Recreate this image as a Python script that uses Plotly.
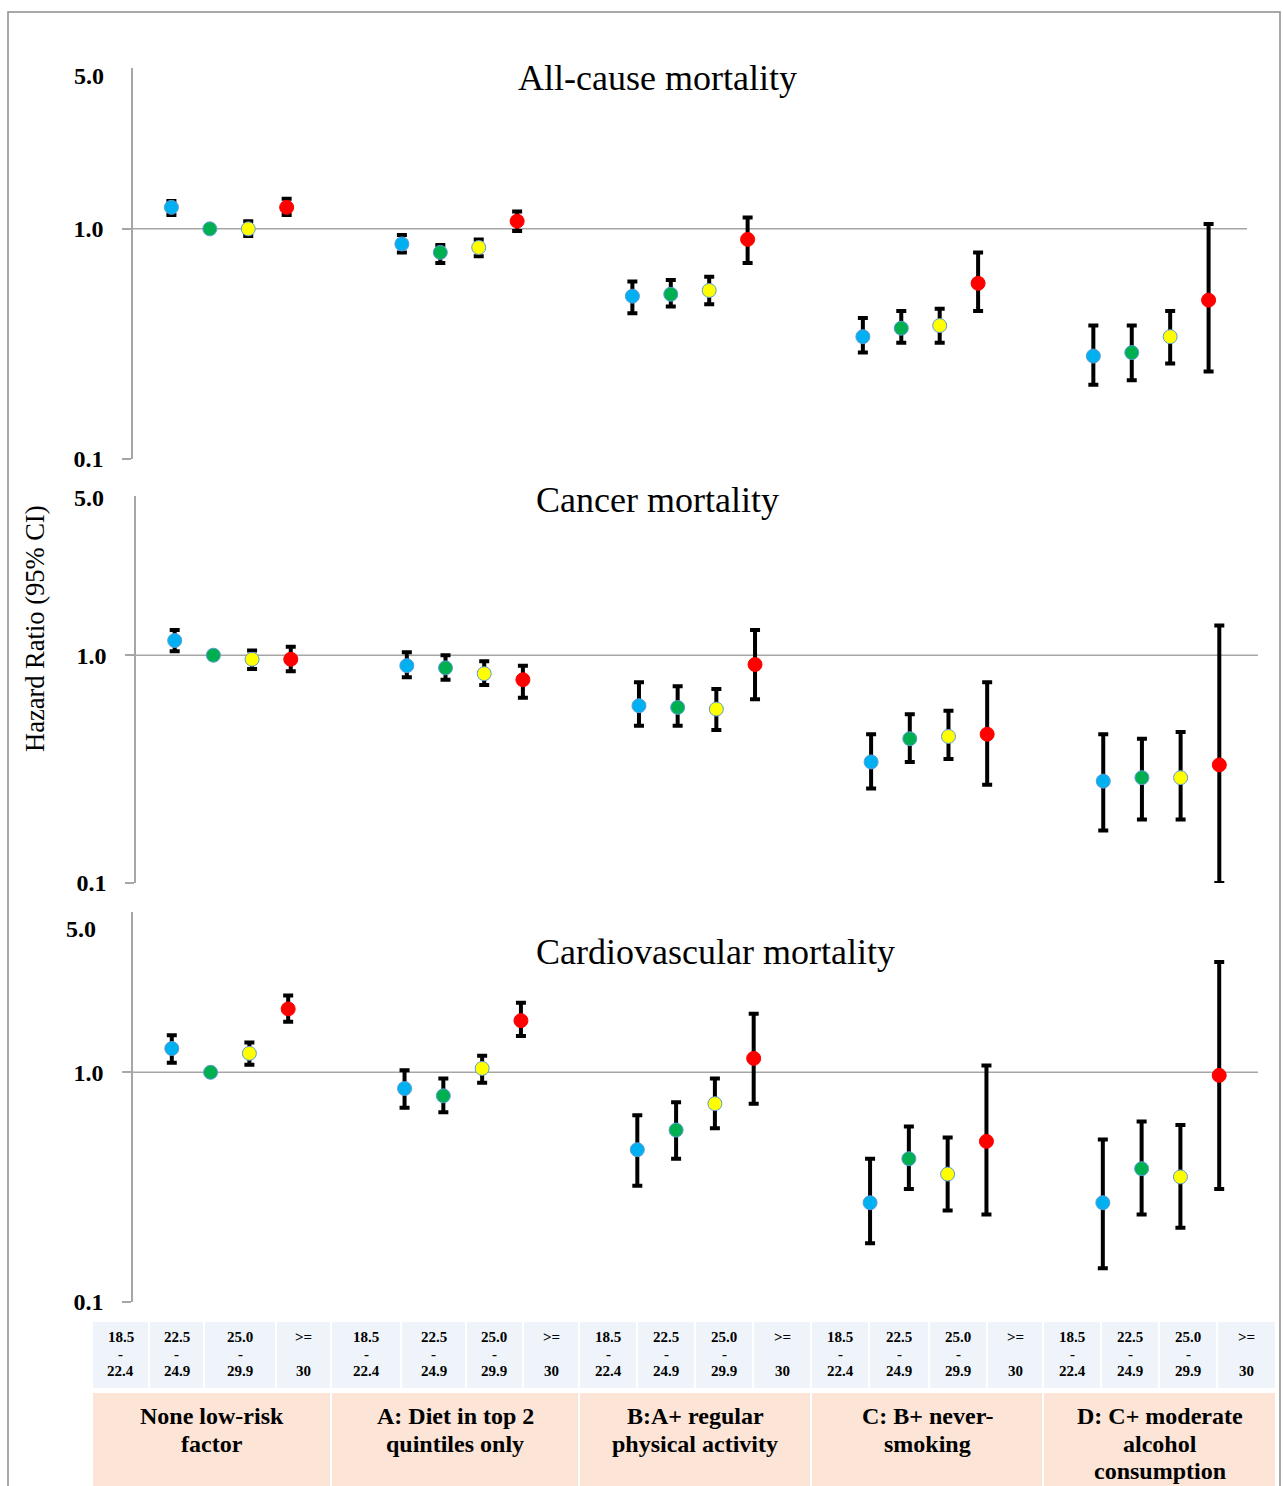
import plotly.graph_objects as go

# ---------------- data ----------------
groups = ["None low-risk factor", "A: Diet in top 2 quintiles only",
          "B:A+ regular physical activity", "C: B+ never-smoking",
          "D: C+ moderate alcohol consumption"]
group_label_lines = [["None low-risk", "factor"], ["A: Diet in top 2", "quintiles only"],
                     ["B:A+ regular", "physical activity"], ["C: B+ never-", "smoking"],
                     ["D: C+ moderate", "alcohol", "consumption"]]
bmi_cats = ["18.5-22.4", "22.5-24.9", "25.0-29.9", ">=30"]
bmi_label_lines = [["18.5", "-", "22.4"], ["22.5", "-", "24.9"], ["25.0", "-", "29.9"],
                   ["&gt;=", "", "30"]]
bmi_colors = ["#00B0F0", "#00B050", "#FFFF00", "#FF0000"]

panel_titles = ["All-cause mortality", "Cancer mortality", "Cardiovascular mortality"]

# hazard ratios ordered group by group, 4 BMI categories per group
hr_all = [1.24, 1.00, 1.00, 1.24, 0.86, 0.79, 0.83, 1.08, 0.51, 0.52, 0.54, 0.90,
          0.34, 0.37, 0.38, 0.58, 0.28, 0.29, 0.34, 0.49]
lo_all = [1.15, None, 0.93, 1.15, 0.79, 0.71, 0.76, 0.98, 0.43, 0.46, 0.47, 0.71,
          0.29, 0.32, 0.32, 0.44, 0.21, 0.22, 0.26, 0.24]
hi_all = [1.32, None, 1.08, 1.35, 0.94, 0.85, 0.90, 1.19, 0.59, 0.60, 0.62, 1.12,
          0.41, 0.44, 0.45, 0.79, 0.38, 0.38, 0.44, 1.05]

hr_can = [1.16, 1.00, 0.96, 0.96, 0.90, 0.88, 0.83, 0.78, 0.60, 0.59, 0.58, 0.91,
          0.34, 0.43, 0.44, 0.45, 0.28, 0.29, 0.29, 0.33]
lo_can = [1.04, None, 0.87, 0.85, 0.80, 0.78, 0.74, 0.65, 0.49, 0.49, 0.47, 0.64,
          0.26, 0.34, 0.35, 0.27, 0.17, 0.19, 0.19, 0.10]
hi_can = [1.29, None, 1.05, 1.09, 1.03, 1.00, 0.94, 0.90, 0.76, 0.73, 0.71, 1.29,
          0.45, 0.55, 0.57, 0.76, 0.45, 0.43, 0.46, 1.35]

hr_cvd = [1.27, 1.00, 1.21, 1.89, 0.85, 0.79, 1.04, 1.68, 0.46, 0.56, 0.73, 1.15,
          0.27, 0.42, 0.36, 0.50, 0.27, 0.38, 0.35, 0.97]
lo_cvd = [1.10, None, 1.08, 1.66, 0.70, 0.67, 0.90, 1.44, 0.32, 0.42, 0.57, 0.73,
          0.18, 0.31, 0.25, 0.24, 0.14, 0.24, 0.21, 0.31]
hi_cvd = [1.45, None, 1.35, 2.16, 1.02, 0.94, 1.18, 2.01, 0.65, 0.74, 0.94, 1.80,
          0.42, 0.58, 0.52, 1.07, 0.51, 0.61, 0.59, 3.03]

ytick_vals = [0.1, 1.0]
ytick_text = ["0.1", "1.0"]
ytop_label = "5.0"
ymax = 5.0

panels = [(hr_all, lo_all, hi_all), (hr_can, lo_can, hi_can), (hr_cvd, lo_cvd, hi_cvd)]

# ---------------- layout geometry (pixels) ----------------
W, H = 1283, 1486
def px(x):
    return x / W
def py(y):
    return 1 - y / H

x_domains = [(133, 1247), (136, 1258), (133, 1258)]
y_domains = [(68, 459), (496, 883), (912, 1301.7)]
title_pos = [(657, 78), (657, 500), (715, 952)]
top_label_pos = [(106, 76), (106, 498), (98, 929)]
SERIF = "Liberation Serif, Times New Roman, serif"

fig = go.Figure()
n_groups = len(groups)
for p, (hr, lo, hi) in enumerate(panels):
    xa = "x" if p == 0 else f"x{p+1}"
    ya = "y" if p == 0 else f"y{p+1}"
    for i, cat in enumerate(bmi_cats):
        xs, ys, plus, minus = [], [], [], []
        for g in range(n_groups):
            k = g * 4 + i
            xs.append(g * 6 + i)
            ys.append(hr[k])
            plus.append(None if hi[k] is None else hi[k] - hr[k])
            minus.append(None if lo[k] is None else hr[k] - lo[k])
        fig.add_trace(go.Scatter(
            x=xs, y=ys, mode="markers", xaxis=xa, yaxis=ya, name=cat,
            showlegend=False,
            marker=dict(color=bmi_colors[i], size=14,
                        line=dict(color="#FF0000" if i == 3 else "#5B9BD5", width=1)),
            error_y=dict(type="data", symmetric=False, array=plus, arrayminus=minus,
                         color="black", thickness=4, width=5),
        ))

layout = dict(
    width=W, height=H, template="none",
    margin=dict(l=0, r=0, t=0, b=0),
    paper_bgcolor="white", plot_bgcolor="rgba(0,0,0,0)",
    showlegend=False,
)
import math
for p in range(3):
    xk = "xaxis" if p == 0 else f"xaxis{p+1}"
    yk = "yaxis" if p == 0 else f"yaxis{p+1}"
    xa = "x" if p == 0 else f"x{p+1}"
    ya = "y" if p == 0 else f"y{p+1}"
    layout[xk] = dict(domain=[px(x_domains[p][0]), px(x_domains[p][1])], range=[-1, 28],
                      showgrid=False, zeroline=False, showticklabels=False, ticks="",
                      showline=False, anchor=ya, automargin=False, fixedrange=True)
    layout[yk] = dict(domain=[py(y_domains[p][1]), py(y_domains[p][0])], type="log",
                      range=[-1, math.log10(ymax)], tickvals=ytick_vals, ticktext=ytick_text,
                      showgrid=False, zeroline=False, showline=True, linecolor="#A6A6A6",
                      linewidth=1.5, ticks="outside", ticklen=9, tickcolor="#A6A6A6",
                      tickwidth=1.5, ticklabelstandoff=14,
                      tickfont=dict(family=SERIF, size=24, color="black", weight="bold"),
                      anchor=xa, automargin=False, fixedrange=True)
fig.update_layout(**layout)

shapes = []
annotations = []
# outer border
shapes.append(dict(type="rect", xref="paper", yref="paper", x0=px(8), x1=px(1280),
                   y0=py(1500), y1=py(12), line=dict(color="#8C8C8C", width=1.5),
                   fillcolor="rgba(0,0,0,0)", layer="below"))
for p in range(3):
    xa = "x" if p == 0 else f"x{p+1}"
    ya = "y" if p == 0 else f"y{p+1}"
    shapes.append(dict(type="line", xref=f"{xa} domain", yref=ya, x0=0, x1=1, y0=1, y1=1,
                       line=dict(color="#A6A6A6", width=1.5), layer="below"))
    annotations.append(dict(text=panel_titles[p], x=px(title_pos[p][0]), y=py(title_pos[p][1]),
                            xref="paper", yref="paper", showarrow=False,
                            xanchor="center", yanchor="middle",
                            font=dict(family=SERIF, size=36, color="black")))
    # top axis label (no tick mark at the top in the original)
    annotations.append(dict(text=ytop_label, x=px(top_label_pos[p][0]), y=py(top_label_pos[p][1]),
                            xref="paper", yref="paper", showarrow=False,
                            xanchor="right", yanchor="middle",
                            font=dict(family=SERIF, size=24, color="black", weight="bold")))
# y-axis title
annotations.append(dict(text="Hazard Ratio (95% CI)", x=px(35), y=py(629), xref="paper",
                        yref="paper", showarrow=False, textangle=-90,
                        xanchor="center", yanchor="middle",
                        font=dict(family=SERIF, size=26.5, color="black")))

# ---------------- bottom table ----------------
bmi_cells = [
    [(93, 148), (150, 203), (205, 275), (277, 330)],
    [(332, 400), (402, 465), (467, 522), (524, 578)],
    [(580, 636), (638, 694), (696, 752), (754, 810)],
    [(812, 868), (870, 928), (930, 986), (988, 1042)],
    [(1044, 1100), (1102, 1158), (1160, 1216), (1218, 1275)],
]
bmi_line_y = [1337, 1354, 1371]
group_line_y = [1416, 1444, 1471]
for g in range(n_groups):
    for i in range(4):
        x0, x1 = bmi_cells[g][i]
        shapes.append(dict(type="rect", xref="paper", yref="paper", x0=px(x0), x1=px(x1),
                           y0=py(1388), y1=py(1322), fillcolor="#EEF4F9",
                           line=dict(width=0), layer="below"))
        for li, t in enumerate(bmi_label_lines[i]):
            if not t:
                continue
            annotations.append(dict(text=t, x=px((x0 + x1) / 2), y=py(bmi_line_y[li]),
                                    xref="paper", yref="paper", showarrow=False,
                                    xanchor="center", yanchor="middle",
                                    font=dict(family=SERIF, size=15, color="black",
                                              weight="bold")))
    gx0, gx1 = bmi_cells[g][0][0], bmi_cells[g][3][1]
    shapes.append(dict(type="rect", xref="paper", yref="paper", x0=px(gx0), x1=px(gx1),
                       y0=py(1500), y1=py(1393), fillcolor="#FCE4D6",
                       line=dict(width=0), layer="below"))
    for li, t in enumerate(group_label_lines[g]):
        annotations.append(dict(text=t, x=px((gx0 + gx1) / 2), y=py(group_line_y[li]),
                                xref="paper", yref="paper", showarrow=False,
                                xanchor="center", yanchor="middle",
                                font=dict(family=SERIF, size=24, color="black",
                                          weight="bold")))

fig.update_layout(shapes=shapes, annotations=annotations)
fig.write_html("out.html", config={"displayModeBar": False},
               post_script="document.body.style.margin='0';document.body.style.overflow='hidden';")
